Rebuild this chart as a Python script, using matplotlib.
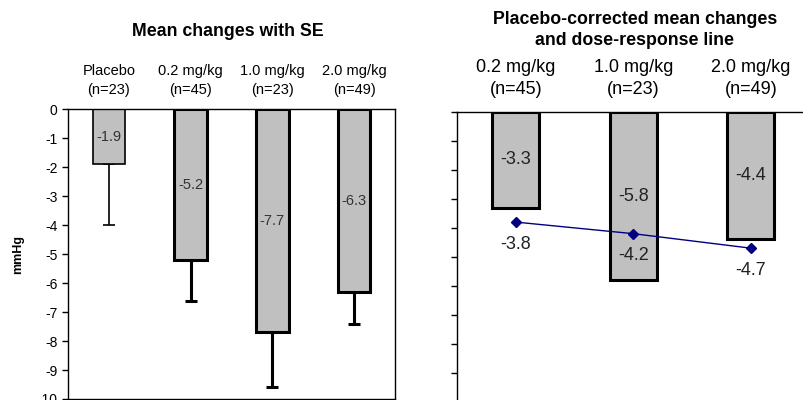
import matplotlib
matplotlib.use("Agg")
import matplotlib.pyplot as plt

plt.rcParams['font.family'] = ['Liberation Sans', 'DejaVu Sans']

# left panel: mean changes with SE
groups = ['Placebo\n(n=23)', '0.2 mg/kg\n(n=45)', '1.0 mg/kg\n(n=23)', '2.0 mg/kg\n(n=49)']
means = [-1.9, -5.2, -7.7, -6.3]
se = [2.1, 1.4, 1.9, 1.1]

# right panel: placebo-corrected changes and dose-response line
doses = ['0.2 mg/kg\n(n=45)', '1.0 mg/kg\n(n=23)', '2.0 mg/kg\n(n=49)']
corrected = [-3.3, -5.8, -4.4]
fitted = [-3.8, -4.2, -4.7]

yticks = list(range(0, -11, -1))
bar_color = '#c0c0c0'

fig = plt.figure(figsize=(8.04, 4.0), dpi=100)

# ---- left ----
ax1 = fig.add_axes([68/804, 1/400, 327/804, 289.7/400])
xs = list(range(len(groups)))
for i, (m, e) in enumerate(zip(means, se)):
    lw = 1.2 if i == 0 else 2.2
    ax1.bar(i, m, width=0.4, color=bar_color, edgecolor='black', linewidth=lw, zorder=2)
    ax1.errorbar(i, m, yerr=[[e], [0]], fmt='none', ecolor='black',
                 elinewidth=lw, capsize=4, capthick=lw, zorder=1)
    ax1.text(i, m / 2, '%.1f' % m, ha='center', va='center', fontsize=10.5, color='#333333', zorder=3)
ax1.set_xlim(-0.5, len(groups) - 0.5)
ax1.set_ylim(-10, 0)
ax1.set_yticks(yticks)
ax1.set_yticklabels([str(t) for t in yticks], fontsize=10)
ax1.set_xticks(xs)
ax1.set_xticklabels(groups, fontsize=10.5, linespacing=1.45)
ax1.xaxis.tick_top()
ax1.tick_params(axis='x', length=0, pad=9)
ax1.tick_params(axis='y', length=4, width=1, direction='out')
ax1.set_ylabel('mmHg', fontsize=9, fontweight='bold', labelpad=10)
for s in ax1.spines.values():
    s.set_linewidth(1)

fig.text(228/804, 1 - 32/400, 'Mean changes with SE', ha='center', va='center',
         fontsize=12.8, fontweight='bold')

# ---- right ----
ax2 = fig.add_axes([457/804, -1.7/400, 347/804, 289.7/400])
xs2 = list(range(len(doses)))
ax2.bar(xs2, corrected, width=0.4, color=bar_color, edgecolor='black', linewidth=2.2, zorder=2)
for i, v in enumerate(corrected):
    ax2.text(i, v / 2, '%.1f' % v, ha='center', va='center', fontsize=13, color='#222222', zorder=3)
ax2.plot(xs2, fitted, color='#000080', linewidth=1, marker='D', markersize=5, zorder=4)
for i, v in enumerate(fitted):
    ax2.annotate('%.1f' % v, (i, v), xytext=(0, -16), textcoords='offset points',
                 ha='center', va='center', fontsize=13, color='#222222', zorder=5)
ax2.set_xlim(-0.5, 2.453)
ax2.set_ylim(-10, 0)
ax2.set_yticks(yticks)
ax2.set_yticklabels([])
ax2.set_xticks(xs2)
ax2.set_xticklabels(doses, fontsize=13, linespacing=1.42)
ax2.xaxis.tick_top()
ax2.tick_params(axis='x', length=0, pad=10)
ax2.tick_params(axis='y', length=4, width=1, direction='out')
ax2.spines['right'].set_visible(False)
for s in ax2.spines.values():
    s.set_linewidth(1)

fig.text(635/804, 1 - 30/400, 'Placebo-corrected mean changes\nand dose-response line',
         ha='center', va='center', fontsize=12.8, fontweight='bold', linespacing=1.35)

fig.savefig('out.png', dpi=100)
